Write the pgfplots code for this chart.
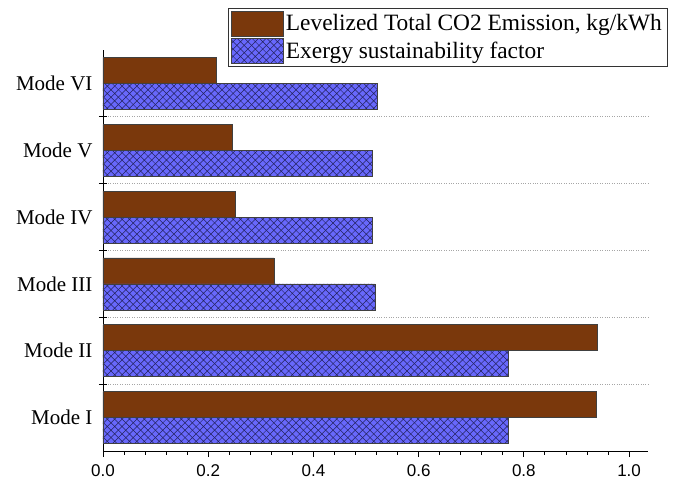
\documentclass[border=0pt]{standalone}
\usepackage{pgfplots}
\pgfplotsset{compat=1.18}
\usepackage{fontspec}
\setmainfont{Liberation Serif}
\newfontfamily\arialfont{Liberation Sans}
\usetikzlibrary{patterns}

\definecolor{co2brown}{RGB}{122,56,12}
\definecolor{exblue}{RGB}{104,104,252}
\definecolor{hatchnavy}{RGB}{35,35,95}

% diagonal cross-hatch used on the exergy bars
\pgfdeclarepatternformonly{diagcross}{\pgfqpoint{-0.5pt}{-0.5pt}}{\pgfqpoint{7.9pt}{7.9pt}}{\pgfqpoint{7.4pt}{7.4pt}}{%
  \pgfsetlinewidth{0.5pt}%
  \pgfpathmoveto{\pgfqpoint{0pt}{0pt}}\pgfpathlineto{\pgfqpoint{7.4pt}{7.4pt}}%
  \pgfpathmoveto{\pgfqpoint{0pt}{7.4pt}}\pgfpathlineto{\pgfqpoint{7.4pt}{0pt}}%
  \pgfusepath{stroke}}

\begin{document}
\begin{tikzpicture}
\begin{axis}[
  scale only axis,
  width=545pt, height=401pt,
  xbar, bar width=26pt,
  xmin=0, xmax=1.036,
  ymin=-0.5, ymax=5.5,
  axis x line*=bottom, axis y line*=left,
  axis line style={black, line width=0.8pt},
  xtick={0,0.2,0.4,0.6,0.8,1.0},
  minor x tick num=4,
  x tick style={black, line width=0.8pt},
  xtick align=outside,
  major tick length=6pt, minor tick length=3.5pt,
  xticklabel style={font=\arialfont\fontsize{17}{20}\selectfont, yshift=-4pt},
  /pgf/number format/assume math mode=true,
  /pgf/number format/.cd, fixed, fixed zerofill, precision=1, /pgfplots/.cd,
  ytick={0,1,2,3,4,5},
  yticklabels={Mode I, Mode II, Mode III, Mode IV, Mode V, Mode VI},
  yticklabel style={font=\fontsize{21}{24}\selectfont, xshift=-4pt},
  y tick style={draw=none},
  minor ytick={-0.5,5.5},
  minor y tick style={black, line width=0.8pt},
  ytick align=center,
  extra y ticks={0.5,1.5,2.5,3.5,4.5},
  extra y tick labels={},
  extra y tick style={grid=major, major grid style={dotted, gray!70, line width=0.7pt},
    y tick style={draw=black, line width=0.8pt}, major tick length=8pt, tick align=center},
  legend style={at={(125pt,443pt)}, anchor=north west, draw=black!80, line width=0.6pt,
    font=\fontsize{23.4}{27}\selectfont, inner xsep=3pt, inner ysep=2.5pt, row sep=2pt,
    cells={anchor=west}},
  legend cell align=left,
  legend image code/.code={\draw[#1, line width=0.6pt] (0pt,-12.5pt) rectangle (52pt,12.5pt);},
  clip=false,
]
\addplot[bar shift=13pt, fill=co2brown, draw=black!75, line width=0.6pt]
  coordinates {(0.937,0) (0.939,1) (0.325,2) (0.251,3) (0.246,4) (0.215,5)};
\addlegendentry{Levelized Total CO2 Emission, kg/kWh}
\addplot[bar shift=-13pt, fill=exblue, draw=black!75, line width=0.6pt,
  postaction={pattern=diagcross, pattern color=hatchnavy}]
  coordinates {(0.770,0) (0.770,1) (0.517,2) (0.511,3) (0.512,4) (0.521,5)};
\addlegendentry{Exergy sustainability factor}
% page frame around the chart
\path (rel axis cs:0,0) ++(-103pt,-31pt) rectangle ++(682pt,482pt);
\end{axis}
\end{tikzpicture}
\end{document}
